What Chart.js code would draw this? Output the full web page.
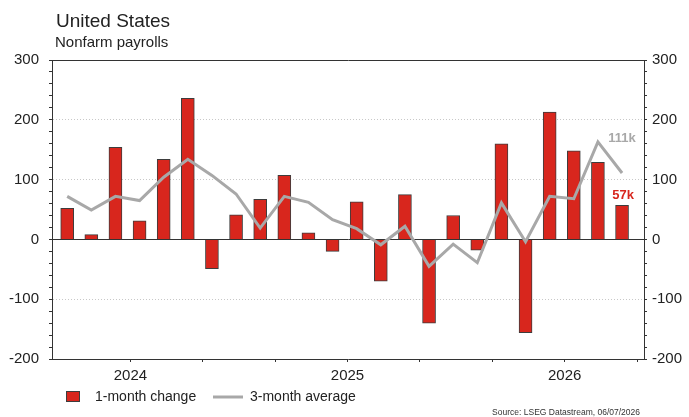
<!DOCTYPE html>
<html>
<head>
<meta charset="utf-8">
<script src="https://cdn.jsdelivr.net/npm/chart.js@4/dist/chart.umd.min.js"></script>
<style>
  html, body { margin: 0; padding: 0; background: #fff; }
</style>
</head>
<body>
<canvas id="payrollChart" width="689" height="417"></canvas>
<script>
// Monthly data, Jul 2024 - Jun 2026 (thousands)
const months = [
  "Jul 2024", "Aug 2024", "Sep 2024", "Oct 2024", "Nov 2024", "Dec 2024",
  "Jan 2025", "Feb 2025", "Mar 2025", "Apr 2025", "May 2025", "Jun 2025",
  "Jul 2025", "Aug 2025", "Sep 2025", "Oct 2025", "Nov 2025", "Dec 2025",
  "Jan 2026", "Feb 2026", "Mar 2026", "Apr 2026", "May 2026", "Jun 2026"
];
const monthlyChange = [52, 8, 154, 31, 134, 236, -49, 41, 67, 107, 11, -20,
  63, -70, 75, -140, 40, -18, 160, -156, 213, 148, 129, 57];
const threeMonthAvg = [72, 49, 72, 65, 104, 134, 107, 76, 19, 72, 62, 33,
  18, -9, 22, -45, -8, -39, 61, -4, 72, 68, 163, 111];
const yearLabels = ["2024", "2025", "2026"];
const yMin = -200, yMax = 300;

const FONT = "'Liberation Sans', Arial, sans-serif";
const RED = "#d8261d";
const GREY = "#a8a8a8";
const INK = "#222";

// tick marks every 20 on the value axes, labels every 100
const valueTicks = s => {
  const t = [];
  for (let v = yMin; v <= yMax; v += 20) t.push({ value: v });
  s.ticks = t;
};

const gridColor = c => {
  const v = c.tick ? c.tick.value : null;
  if (v === 0 || v === yMax) return "#333";
  if (v !== null && v % 100 === 0 && v !== yMin) return "#c8c8c8";
  return "rgba(0,0,0,0)";
};

// titles, legend, source and end-point labels
const decorations = {
  id: "decorations",
  afterDraw(chart) {
    const { ctx, scales } = chart;
    const x = scales.x, y = scales.y;
    ctx.save();
    ctx.fillStyle = INK;
    ctx.textBaseline = "alphabetic";
    ctx.textAlign = "left";
    ctx.font = "19px " + FONT;
    ctx.fillText("United States", 56, 27);
    ctx.font = "15px " + FONT;
    ctx.fillText("Nonfarm payrolls", 55, 47);

    // legend
    ctx.fillStyle = RED;
    ctx.strokeStyle = "#3d3d3d";
    ctx.lineWidth = 1;
    ctx.fillRect(66.5, 391.5, 13, 10);
    ctx.strokeRect(66.5, 391.5, 13, 10);
    ctx.fillStyle = INK;
    ctx.font = "14px " + FONT;
    ctx.textBaseline = "middle";
    ctx.fillText(chart.data.datasets[0].label, 95, 397);
    ctx.strokeStyle = GREY;
    ctx.lineWidth = 3;
    ctx.beginPath();
    ctx.moveTo(213, 397);
    ctx.lineTo(243, 397);
    ctx.stroke();
    ctx.fillText(chart.data.datasets[1].label, 250, 397);

    // source
    ctx.font = "8.5px " + FONT;
    ctx.fillStyle = "#333";
    ctx.textAlign = "right";
    ctx.textBaseline = "alphabetic";
    ctx.fillText("Source: LSEG Datastream, 06/07/2026", 640, 415);

    // latest values
    const last = monthlyChange.length - 1;
    const xp = x.getPixelForValue(last);
    ctx.textAlign = "center";
    ctx.textBaseline = "middle";
    ctx.font = "bold 13px " + FONT;
    ctx.fillStyle = GREY;
    ctx.fillText(Math.round(threeMonthAvg[last]) + "k", xp, y.getPixelForValue(threeMonthAvg[last]) - 35);
    ctx.fillStyle = RED;
    ctx.fillText(Math.round(monthlyChange[last]) + "k", xp + 1, y.getPixelForValue(monthlyChange[last]) - 10);
    ctx.restore();
  }
};

const valueAxis = (position, width, pad) => ({
  position,
  min: yMin,
  max: yMax,
  afterBuildTicks: valueTicks,
  afterFit: s => { s.width = width; },
  ticks: {
    autoSkip: false,
    padding: pad,
    color: INK,
    font: { family: FONT, size: 15 },
    callback: v => (v % 100 === 0 ? v : "")
  },
  grid: {
    drawOnChartArea: position === "left",
    color: gridColor,
    lineWidth: 1,
    tickLength: 3,
    tickColor: "#333"
  },
  border: {
    color: "#333",
    width: 1,
    dash: c => (c.tick && (c.tick.value === 0 || c.tick.value === yMax) ? [] : [1, 2])
  }
});

new Chart(document.getElementById("payrollChart"), {
  data: {
    datasets: [
      {
        type: "bar",
        label: "1-month change",
        data: months.map((m, i) => ({ x: i, y: monthlyChange[i] })),
        backgroundColor: RED,
        borderColor: "#3d3d3d",
        borderWidth: 1,
        barThickness: 13,
        order: 2
      },
      {
        type: "line",
        label: "3-month average",
        data: months.map((m, i) => ({ x: i, y: threeMonthAvg[i] })),
        borderColor: GREY,
        borderWidth: 3,
        pointRadius: 0,
        tension: 0,
        order: 1
      }
    ]
  },
  options: {
    responsive: false,
    animation: false,
    layout: { padding: { top: 60, left: 0, right: 0, bottom: 0 } },
    plugins: {
      legend: { display: false },
      title: { display: false },
      tooltip: { enabled: false }
    },
    scales: {
      x: {
        type: "linear",
        offset: false,
        min: -0.63,
        max: 23.91,
        afterBuildTicks: s => {
          const t = [];
          for (let k = 0; k < 8; k++) t.push({ value: 2.62 + 3 * k });
          s.ticks = t;
        },
        afterFit: s => { s.height = 58; },
        ticks: {
          autoSkip: false,
          maxRotation: 0,
          padding: 5,
          color: INK,
          font: { family: FONT, size: 15 },
          callback: (v, i) => (i % 3 === 0 ? yearLabels[i / 3] : "")
        },
        grid: { offset: false, drawOnChartArea: false, tickLength: 3, tickColor: "#333" },
        border: { color: "#333", width: 1 }
      },
      y: valueAxis("left", 52, 10),
      y2: valueAxis("right", 45, 5)
    }
  },
  plugins: [decorations]
});
</script>
</body>
</html>
